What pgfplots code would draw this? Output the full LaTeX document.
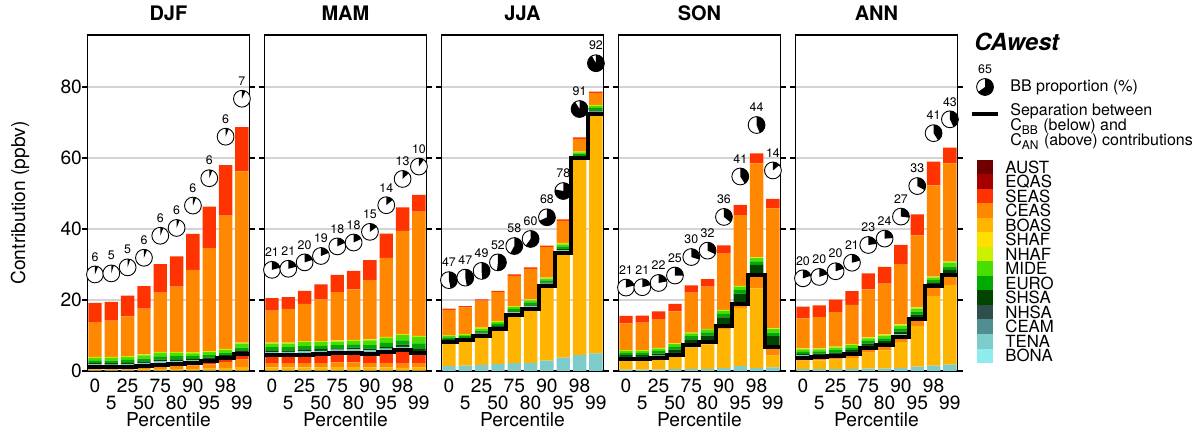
\documentclass[border=0pt]{standalone}
\usepackage{pgfplots}
\pgfplotsset{compat=1.18}
\usepackage{pgfplotstable}
\usepackage{fontspec}
\setmainfont{TeX Gyre Heros}

% source-region colours
\definecolor{cAUST}{HTML}{6E0000}
\definecolor{cEQAS}{HTML}{A50000}
\definecolor{cSEAS}{HTML}{FF3300}
\definecolor{cCEAS}{HTML}{FF8800}
\definecolor{cBOAS}{HTML}{FFB400}
\definecolor{cSHAF}{HTML}{FFDF00}
\definecolor{cNHAF}{HTML}{CCF000}
\definecolor{cMIDE}{HTML}{4ADD00}
\definecolor{cEURO}{HTML}{00AA00}
\definecolor{cSHSA}{HTML}{004400}
\definecolor{cNHSA}{HTML}{2F4F4F}
\definecolor{cCEAM}{HTML}{4F8F8F}
\definecolor{cTENA}{HTML}{7CCCCC}
\definecolor{cBONA}{HTML}{90ECEC}

\newcommand\fs[1]{\fontsize{#1}{#1}\selectfont}
\newcommand\pieR{4.2pt}
\newcommand\curpct{0}

% pie mark: white disc, black sector of \curpct % clockwise from the top,
% the percentage written above it
\pgfdeclareplotmark{bbpie}{%
  \pgfmathsetmacro\pieend{90-3.6*\curpct}%
  \pgfpathcircle{\pgfpointorigin}{\pieR}%
  \pgfsetfillcolor{white}%
  \pgfusepath{fill}%
  \pgfpathmoveto{\pgfpointorigin}%
  \pgfpathlineto{\pgfqpoint{0pt}{\pieR}}%
  \pgfpatharc{90}{\pieend}{\pieR}%
  \pgfpathclose
  \pgfsetfillcolor{black}%
  \pgfusepath{fill}%
  \pgfpathcircle{\pgfpointorigin}{\pieR}%
  \pgfsetstrokecolor{black}%
  \pgfsetlinewidth{0.45pt}%
  \pgfusepath{stroke}%
  \pgftext[at=\pgfqpoint{0pt}{8.8pt}]{\fs{6.2}\curpct}%
}

% b* = biomass burning (below the black line), a* = anthropogenic (above)
% pie = BB proportion in %, piey = height of the pie symbol
\pgfplotstableread{
x bBONA bBOAS bCEAS bSEAS aTENA aSHSA aEURO aMIDE aNHAF aCEAS aSEAS pie piey
0 0.1 0.3 0.5 0.3 0.7 0.4 0.7 0.7 0.3  9.8  5.4 6 27.2
1 0.1 0.3 0.4 0.3 0.7 0.4 0.7 0.8 0.3 10.2  5.3 5 27.5
2 0.1 0.3 0.4 0.3 0.8 0.4 0.8 0.8 0.3 11.2  5.8 5 29.2
3 0.1 0.4 0.6 0.4 0.8 0.4 0.8 0.9 0.3 12.9  6.3 6 31.9
4 0.1 0.4 0.8 0.5 0.9 0.5 0.9 1.0 0.3 16.8  7.9 6 38.1
5 0.1 0.5 0.9 0.5 0.8 0.5 0.9 0.9 0.3 18.4  8.5 6 40.3
6 0.1 0.5 1.0 0.7 0.7 0.4 0.8 0.8 0.3 23.2 10.1 6 46.6
7 0.1 0.6 1.2 0.8 0.7 0.4 0.7 0.8 0.3 29.0 11.7 6 54.3
8 0.1 0.8 1.6 1.1 0.5 0.4 0.7 0.7 0.3 37.6 14.2 6 66.0
9 0.1 1.0 2.2 1.5 0.5 0.5 0.8 1.1 0.3 48.2 12.5 7 76.7
}\tDJF

\pgfplotstableread{
x bBONA bBOAS bCEAS bSEAS aTENA aSHSA aEURO aMIDE aNHAF aCEAS aSEAS pie piey
0 0.1 0.9 1.2 2.2 0.9 0.5 0.9 1.0 0.3  9.0 3.5 21 28.5
1 0.1 0.9 1.2 2.3 0.9 0.4 0.9 1.0 0.3  9.5 3.3 21 28.8
2 0.1 0.9 1.2 2.4 1.0 0.5 0.9 1.1 0.3 10.5 3.7 20 30.6
3 0.1 0.9 1.2 2.5 1.0 0.5 0.9 1.0 0.3 11.8 4.2 19 32.4
4 0.1 1.0 1.3 2.6 1.0 0.4 0.9 1.0 0.3 13.6 4.9 18 35.1
5 0.1 1.0 1.3 2.7 1.0 0.5 0.9 1.0 0.3 14.2 5.2 18 36.2
6 0.1 0.9 1.2 2.6 1.0 0.5 1.0 1.3 0.3 16.7 5.6 15 39.2
7 0.1 0.9 1.3 3.1 0.9 0.5 1.1 1.4 0.3 22.3 6.8 14 46.7
8 0.1 0.8 1.2 3.9 0.8 0.6 1.2 1.5 0.3 29.1 6.6 13 54.1
9 0.1 0.9 1.2 2.8 0.6 0.8 1.4 1.8 0.3 35.0 4.7 10 57.6
}\tMAM

\pgfplotstableread{
x bBONA bBOAS bCEAS bSEAS aTENA aSHSA aEURO aMIDE aNHAF aCEAS aSEAS pie piey
0 1.4  6.7 0.2 0 0.5 0.2 0.5 0.4 0.2 7.1 0.4 47 25.6
1 1.5  6.9 0.2 0 0.5 0.2 0.5 0.4 0.2 7.5 0.4 47 26.3
2 1.7  8.0 0.2 0 0.6 0.3 0.6 0.5 0.3 7.6 0.4 49 28.2
3 2.0  9.6 0.2 0 0.6 0.3 0.6 0.5 0.3 8.1 0.4 52 30.6
4 2.2 13.4 0.2 0 0.7 0.3 0.7 0.5 0.3 8.5 0.4 58 35.2
5 2.3 14.9 0.2 0 0.8 0.3 0.8 0.6 0.3 8.6 0.4 60 37.2
6 2.9 20.8 0.2 0 0.7 0.3 0.6 0.5 0.3 8.6 0.4 68 43.3
7 3.8 29.2 0.2 0 0.8 0.3 0.8 0.6 0.3 6.3 0.4 78 50.7
8 4.5 55.2 0.2 0 0.5 0.2 0.5 0.5 0.2 3.6 0.4 91 73.8
9 5.0 67.2 0.2 0 0.7 0.3 0.7 0.5 0.3 3.4 0.4 92 86.7
}\tJJA

\pgfplotstableread{
x bBONA bBOAS bCEAS bSEAS aTENA aSHSA aEURO aMIDE aNHAF aCEAS aSEAS pie piey
0 0.4  2.8 0.3 0 0.5 0.5 0.6 0.6 0.2  7.5 2.1 21 23.5
1 0.4  2.8 0.3 0 0.5 0.5 0.6 0.6 0.2  7.7 2.0 21 23.6
2 0.4  3.1 0.3 0 0.5 0.6 0.7 0.7 0.2  8.1 2.2 22 24.8
3 0.5  3.7 0.4 0 0.5 0.9 0.8 0.8 0.2  9.0 2.1 25 26.9
4 0.6  6.0 0.6 0 0.5 1.2 0.9 0.8 0.2 11.3 2.0 30 32.1
5 0.6  6.9 0.7 0 0.5 1.3 0.9 0.8 0.2 11.9 2.1 32 33.9
6 0.8 11.0 0.9 0 0.4 2.0 1.0 0.9 0.2 15.9 2.3 36 43.4
7 1.4 16.4 1.2 0 0.4 2.4 1.0 1.0 0.2 19.9 2.9 41 54.8
8 0.8 22.5 3.7 0 0.3 2.6 1.0 0.9 0.2 26.5 2.8 44 69.3
9 1.0  3.3 2.5 0 0.2 2.8 1.0 1.0 0.2 33.8 2.7 14 56.5
}\tSON

\pgfplotstableread{
x bBONA bBOAS bCEAS bSEAS aTENA aSHSA aEURO aMIDE aNHAF aCEAS aSEAS pie piey
0 0.5  2.4 0.5 0.4 0.6 0.4 0.6 0.7 0.3  8.4 3.3 20 26.1
1 0.5  2.5 0.5 0.4 0.6 0.4 0.6 0.6 0.3  8.8 3.3 20 26.5
2 0.5  2.7 0.6 0.4 0.6 0.4 0.7 0.7 0.3  9.7 3.5 20 28.1
3 0.6  3.1 0.7 0.4 0.6 0.5 0.7 0.7 0.3 11.0 3.9 21 30.5
4 0.7  4.5 0.9 0.4 0.6 0.6 0.7 0.8 0.3 13.5 4.5 23 35.5
5 0.7  5.1 1.0 0.4 0.6 0.6 0.8 0.8 0.3 14.3 4.7 24 37.3
6 0.9  7.2 1.2 0.4 0.6 0.8 0.8 0.9 0.3 17.0 5.4 27 43.5
7 1.2 11.5 1.5 0.4 0.5 0.8 0.8 0.9 0.3 20.3 5.9 33 52.1
8 1.5 19.6 2.5 0.4 0.3 0.7 0.6 0.7 0.3 25.7 6.7 41 67.0
9 1.8 22.4 2.5 0.4 0.3 1.1 0.9 1.1 0.3 27.7 4.4 43 70.9
}\tANN

\pgfplotsset{
  panel/.style={
    scale only axis, width=81.15pt, height=168pt,
    xmin=-0.47, xmax=9.47, ymin=0, ymax=94.65,
    anchor=south west,
  },
  barpanel/.style={
    panel, ybar stacked, bar width=0.82,
    every axis plot/.append style={draw=none},
    axis line style={black, line width=0.6pt},
    tick align=outside, major tick length=2.5pt,
    tick style={black, line width=0.6pt},
    ytick={0,20,40,60,80},
    ymajorgrids, major grid style={black!17, line width=0.6pt},
    xtick={0,2,4,6,8}, xticklabels={0,25,75,90,98},
    xtick style={draw=none},
    extra x ticks={1,3,5,7,9}, extra x tick labels={5,50,80,95,99},
    extra x tick style={grid=none, tick style={draw=none},
      xticklabel style={yshift=-8.65pt}},
    /pgf/number format/assume math mode=true,
    tick label style={font=\fs{9.6}},
    xticklabel style={anchor=base, inner sep=0pt, yshift=-8.35pt},
    yticklabel style={anchor=east, inner sep=0pt},
    title style={font=\bfseries\fs{10}, at={(axis description cs:0.5,1)},
      anchor=base, yshift=1.5pt},
    xlabel={Percentile},
    xlabel style={font=\fs{9.6}, at={(axis description cs:0.5,0)},
      anchor=base, yshift=-27.8pt},
  },
  overpanel/.style={panel, hide axis, clip=false},
  bbpie/.style={
    scatter, only marks, mark=bbpie,
    point meta=explicit symbolic,
    scatter/@pre marker code/.code={\xdef\curpct{\pgfplotspointmeta}},
    scatter/@post marker code/.code={},
  },
}

% one seasonal panel: stacked bars, BB/AN separation step line, BB pies
\newcommand\panel[5]{%
\begin{axis}[barpanel, at={(#1,29pt)}, title={#2}, #5]
  \addplot[fill=cTENA] table[x=x,y=bBONA]{#3};
  \addplot[fill=cBOAS] table[x=x,y=bBOAS]{#3};
  \addplot[fill=cCEAS] table[x=x,y=bCEAS]{#3};
  \addplot[fill=cSEAS] table[x=x,y=bSEAS]{#3};
  \addplot[fill=cTENA] table[x=x,y=aTENA]{#3};
  \addplot[fill=cSHSA] table[x=x,y=aSHSA]{#3};
  \addplot[fill=cEURO] table[x=x,y=aEURO]{#3};
  \addplot[fill=cMIDE] table[x=x,y=aMIDE]{#3};
  \addplot[fill=cNHAF] table[x=x,y=aNHAF]{#3};
  \addplot[fill=cCEAS] table[x=x,y=aCEAS]{#3};
  \addplot[fill=cSEAS] table[x=x,y=aSEAS]{#3};
\end{axis}
\begin{axis}[overpanel, at={(#1,29pt)}]
  \addplot[const plot mark mid, black, line width=2pt] coordinates {#4};
  \addplot[bbpie] table[x=x,y=piey,meta=pie]{#3};
\end{axis}}

\begin{document}
\begin{tikzpicture}
\useasboundingbox (0,0) rectangle (600.5pt,214.5pt);

\panel{43.65pt}{DJF}{\tDJF}
  {(-0.5,1.2)(0,1.2)(1,1.1)(2,1.1)(3,1.5)(4,1.8)(5,2.0)(6,2.3)(7,2.7)(8,3.6)(9,4.8)(9.5,4.8)}
  {ylabel={Contribution (ppbv)},
   ylabel style={font=\fs{9.6}, at={(axis description cs:-0.4147,0.5)}, anchor=center}}
\panel{132.15pt}{MAM}{\tMAM}
  {(-0.5,4.4)(0,4.4)(1,4.5)(2,4.6)(3,4.7)(4,5.0)(5,5.1)(6,4.8)(7,5.4)(8,6.0)(9,5.0)(9.5,5.0)}
  {yticklabels={}}
\panel{220.65pt}{JJA}{\tJJA}
  {(-0.5,8.3)(0,8.3)(1,8.6)(2,9.9)(3,11.8)(4,15.8)(5,17.4)(6,23.9)(7,33.2)(8,59.9)(9,72.4)(9.5,72.4)}
  {yticklabels={}}
\panel{309.15pt}{SON}{\tSON}
  {(-0.5,3.5)(0,3.5)(1,3.5)(2,3.8)(3,4.6)(4,7.2)(5,8.2)(6,12.7)(7,19.0)(8,27.0)(9,6.8)(9.5,6.8)}
  {yticklabels={}}
\panel{397.65pt}{ANN}{\tANN}
  {(-0.5,3.8)(0,3.8)(1,3.9)(2,4.2)(3,4.8)(4,6.5)(5,7.2)(6,9.7)(7,14.6)(8,24.0)(9,27.1)(9.5,27.1)}
  {yticklabels={}}

% key (axis units are pixels of the layout, y pointing down)
\begin{axis}[at={(482.5pt,29.5pt)}, anchor=south west, scale only axis,
  width=118pt, height=175pt, xmin=965, xmax=1201, ymin=-370, ymax=-20,
  hide axis, clip=false]
  \node[anchor=west, inner sep=0pt, font=\bfseries\itshape\fs{11.8}] at (axis cs:974,-41.7) {CAwest};
  \addplot[bbpie] coordinates {(985,-87) [65]};
  \node[anchor=west, inner sep=0pt, font=\fs{8}] at (axis cs:1010,-87) {BB proportion (\%)};
  \addplot[black, line width=2pt] coordinates {(972.3,-114.3)(998.3,-114.3)};
  \node[anchor=west, inner sep=0pt, font=\fs{8}] at (axis cs:1010,-111.7) {Separation between};
  \node[anchor=west, inner sep=0pt, font=\fs{8}] at (axis cs:1010,-126.7) {C\textsubscript{BB} (below) and};
  \node[anchor=west, inner sep=0pt, font=\fs{8}] at (axis cs:1010,-141.7) {C\textsubscript{AN} (above) contributions};
  \foreach \c/\n [count=\k from 0] in {cAUST/AUST,cEQAS/EQAS,cSEAS/SEAS,cCEAS/CEAS,cBOAS/BOAS,cSHAF/SHAF,cNHAF/NHAF,cMIDE/MIDE,cEURO/EURO,cSHSA/SHSA,cNHSA/NHSA,cCEAM/CEAM,cTENA/TENA,cBONA/BONA}{
    \edef\tmp{\noexpand\fill[\c] (axis cs:976.7,{-160-14.5*\k}) rectangle (axis cs:993.3,{-174.5-14.5*\k});
      \noexpand\node[anchor=west, inner sep=0pt, font=\noexpand\fs{8.4}] at (axis cs:1005,{-167.25-14.5*\k}) {\n};}
    \tmp
  }
\end{axis}
\end{tikzpicture}
\end{document}
